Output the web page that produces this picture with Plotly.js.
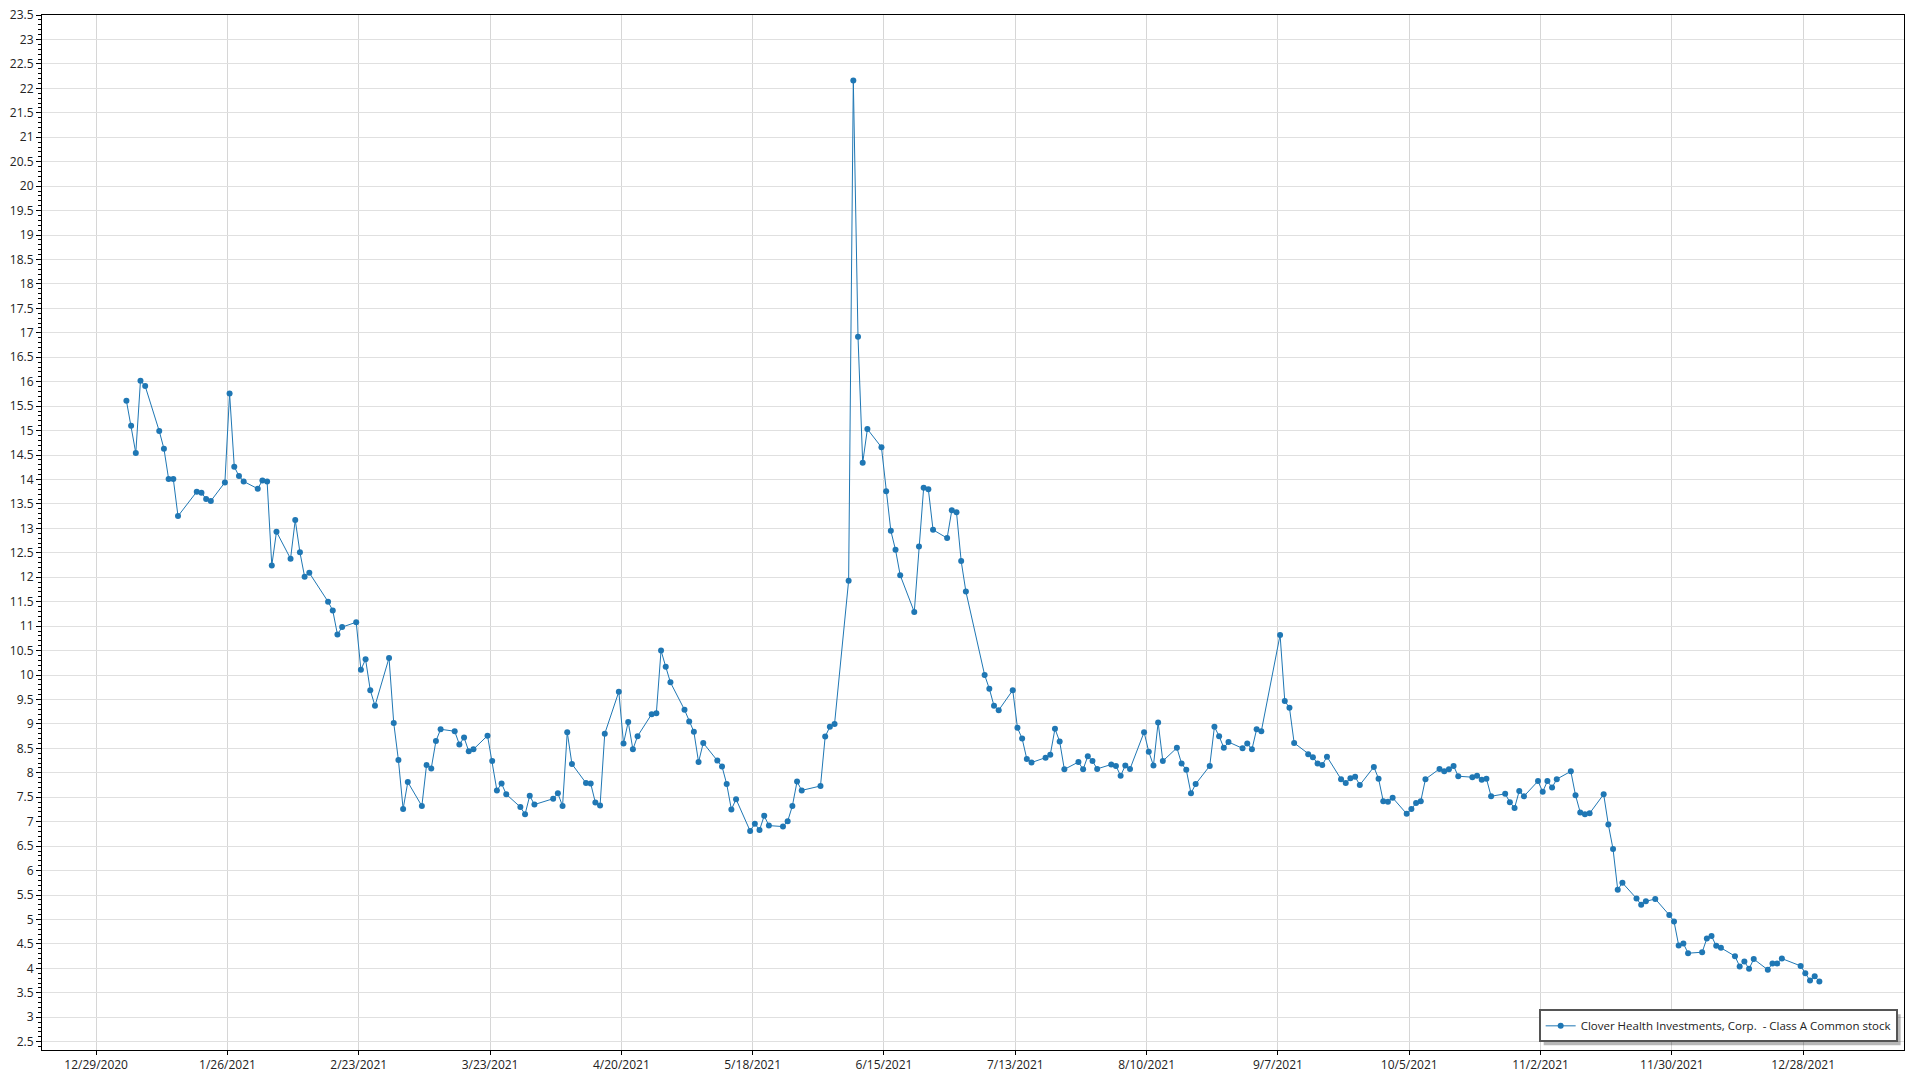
<!DOCTYPE html>
<html>
<head>
<meta charset="utf-8">
<script src="https://cdn.plot.ly/plotly-3.0.1.min.js"></script>
<style>
  html, body { margin: 0; padding: 0; background: #ffffff; }
  #chart { width: 1920px; height: 1080px; }
</style>
</head>
<body>
<div id="chart"></div>
<script>
// ---- Data (daily closing price, 2021) ----
const seriesName = "Clover Health Investments, Corp.  - Class A Common stock";

const dates = [
  "2021-01-04","2021-01-05","2021-01-06","2021-01-07","2021-01-08","2021-01-11","2021-01-12","2021-01-13","2021-01-14","2021-01-15",
  "2021-01-19","2021-01-20","2021-01-21","2021-01-22","2021-01-25","2021-01-26","2021-01-27","2021-01-28","2021-01-29",
  "2021-02-01","2021-02-02","2021-02-03","2021-02-04","2021-02-05","2021-02-08","2021-02-09","2021-02-10","2021-02-11","2021-02-12",
  "2021-02-16","2021-02-17","2021-02-18","2021-02-19","2021-02-22","2021-02-23","2021-02-24","2021-02-25","2021-02-26",
  "2021-03-01","2021-03-02","2021-03-03","2021-03-04","2021-03-05","2021-03-08","2021-03-09","2021-03-10","2021-03-11","2021-03-12",
  "2021-03-15","2021-03-16","2021-03-17","2021-03-18","2021-03-19","2021-03-22","2021-03-23","2021-03-24","2021-03-25","2021-03-26",
  "2021-03-29","2021-03-30","2021-03-31","2021-04-01",
  "2021-04-05","2021-04-06","2021-04-07","2021-04-08","2021-04-09","2021-04-12","2021-04-13","2021-04-14","2021-04-15","2021-04-16",
  "2021-04-19","2021-04-20","2021-04-21","2021-04-22","2021-04-23","2021-04-26","2021-04-27","2021-04-28","2021-04-29","2021-04-30",
  "2021-05-03","2021-05-04","2021-05-05","2021-05-06","2021-05-07","2021-05-10","2021-05-11","2021-05-12","2021-05-13","2021-05-14",
  "2021-05-17","2021-05-18","2021-05-19","2021-05-20","2021-05-21","2021-05-24","2021-05-25","2021-05-26","2021-05-27","2021-05-28",
  "2021-06-01","2021-06-02","2021-06-03","2021-06-04","2021-06-07","2021-06-08","2021-06-09","2021-06-10","2021-06-11",
  "2021-06-14","2021-06-15","2021-06-16","2021-06-17","2021-06-18","2021-06-21","2021-06-22","2021-06-23","2021-06-24","2021-06-25",
  "2021-06-28","2021-06-29","2021-06-30","2021-07-01","2021-07-02",
  "2021-07-06","2021-07-07","2021-07-08","2021-07-09","2021-07-12","2021-07-13","2021-07-14","2021-07-15","2021-07-16",
  "2021-07-19","2021-07-20","2021-07-21","2021-07-22","2021-07-23","2021-07-26","2021-07-27","2021-07-28","2021-07-29","2021-07-30",
  "2021-08-02","2021-08-03","2021-08-04","2021-08-05","2021-08-06","2021-08-09","2021-08-10","2021-08-11","2021-08-12","2021-08-13",
  "2021-08-16","2021-08-17","2021-08-18","2021-08-19","2021-08-20","2021-08-23","2021-08-24","2021-08-25","2021-08-26","2021-08-27",
  "2021-08-30","2021-08-31","2021-09-01","2021-09-02","2021-09-03",
  "2021-09-07","2021-09-08","2021-09-09","2021-09-10","2021-09-13","2021-09-14","2021-09-15","2021-09-16","2021-09-17",
  "2021-09-20","2021-09-21","2021-09-22","2021-09-23","2021-09-24","2021-09-27","2021-09-28","2021-09-29","2021-09-30","2021-10-01",
  "2021-10-04","2021-10-05","2021-10-06","2021-10-07","2021-10-08","2021-10-11","2021-10-12","2021-10-13","2021-10-14","2021-10-15",
  "2021-10-18","2021-10-19","2021-10-20","2021-10-21","2021-10-22","2021-10-25","2021-10-26","2021-10-27","2021-10-28","2021-10-29",
  "2021-11-01","2021-11-02","2021-11-03","2021-11-04","2021-11-05","2021-11-08","2021-11-09","2021-11-10","2021-11-11","2021-11-12",
  "2021-11-15","2021-11-16","2021-11-17","2021-11-18","2021-11-19","2021-11-22","2021-11-23","2021-11-24","2021-11-26",
  "2021-11-29","2021-11-30","2021-12-01","2021-12-02","2021-12-03","2021-12-06","2021-12-07","2021-12-08","2021-12-09","2021-12-10",
  "2021-12-13","2021-12-14","2021-12-15","2021-12-16","2021-12-17","2021-12-20","2021-12-21","2021-12-22","2021-12-23",
  "2021-12-27","2021-12-28","2021-12-29","2021-12-30","2021-12-31"
];

const closes = [
  15.61,15.10,14.54,16.02,15.91,14.99,14.63,14.01,14.01,13.25,
  13.75,13.73,13.60,13.56,13.94,15.76,14.26,14.07,13.96,
  13.81,13.98,13.96,12.24,12.93,12.38,13.17,12.51,12.01,12.09,
  11.50,11.32,10.83,10.98,11.08,10.11,10.32,9.69,9.37,
  10.35,9.02,8.26,7.26,7.81,7.32,8.16,8.09,8.65,8.89,
  8.85,8.58,8.72,8.44,8.48,8.76,8.24,7.64,7.78,7.56,
  7.30,7.15,7.53,7.35,
  7.47,7.58,7.32,8.83,8.18,7.79,7.78,7.39,7.33,8.80,
  9.66,8.60,9.04,8.48,8.75,9.20,9.22,10.50,10.17,9.85,
  9.29,9.05,8.84,8.22,8.61,8.25,8.13,7.77,7.25,7.46,
  6.81,6.96,6.83,7.12,6.92,6.90,7.01,7.32,7.82,7.64,
  7.73,8.74,8.94,9.00,11.93,22.16,16.92,14.34,15.03,
  14.66,13.76,12.95,12.56,12.04,11.29,12.63,13.83,13.80,12.97,
  12.80,13.37,13.33,12.33,11.71,
  10.00,9.72,9.37,9.28,9.69,8.92,8.70,8.28,8.21,
  8.31,8.37,8.90,8.64,8.07,8.22,8.07,8.34,8.24,8.08,
  8.17,8.14,7.94,8.15,8.08,8.83,8.43,8.15,9.03,8.24,
  8.51,8.19,8.06,7.58,7.77,8.14,8.94,8.75,8.51,8.63,
  8.50,8.60,8.48,8.89,8.85,
  10.82,9.47,9.33,8.61,8.38,8.32,8.19,8.16,8.33,
  7.87,7.79,7.89,7.92,7.75,8.12,7.88,7.42,7.41,7.49,
  7.16,7.26,7.38,7.42,7.87,8.08,8.03,8.07,8.14,7.93,
  7.91,7.94,7.86,7.88,7.52,7.57,7.40,7.28,7.63,7.52,
  7.83,7.61,7.83,7.70,7.87,8.03,7.54,7.19,7.15,7.17,
  7.56,6.94,6.44,5.61,5.75,5.43,5.30,5.37,5.42,
  5.09,4.96,4.47,4.51,4.31,4.33,4.61,4.66,4.46,4.42,
  4.25,4.04,4.14,3.99,4.19,3.97,4.10,4.10,4.20,
  4.05,3.90,3.75,3.84,3.73
];

// Axis settings
const xRange = ["2020-12-17 11:00", "2022-01-18 12:00"];
const yRange = [2.33, 23.5];
const xTick0 = "2020-12-29";
const xTickStepDays = 28;
const sampleTime = " 11:00"; // sample timestamp within the day

const lineColor = "#1f77b4";
const fontFamily = "'Open Sans', 'Noto Sans', 'DejaVu Sans', sans-serif";

const trace = {
  type: "scatter",
  mode: "lines+markers",
  name: seriesName,
  x: dates.map(d => d + sampleTime),
  y: closes,
  line: { color: lineColor, width: 1 },
  marker: { color: lineColor, size: 6 },
  showlegend: true
};

const layout = {
  width: 1920,
  height: 1080,
  margin: { l: 42, r: 16, t: 15, b: 30, pad: 0 },
  paper_bgcolor: "#ffffff",
  plot_bgcolor: "#ffffff",
  font: { family: fontFamily, size: 12, color: "#222222" },
  showlegend: true,
  xaxis: {
    type: "date",
    range: xRange,
    tick0: xTick0,
    dtick: xTickStepDays * 86400000,
    tickformat: "%-m/%-d/%Y",
    ticks: "outside",
    ticklen: 4,
    tickcolor: "#000000",
    showgrid: true,
    gridcolor: "#d6d6d6",
    gridwidth: 1,
    zeroline: false,
    showline: true,
    linecolor: "#000000",
    linewidth: 1,
    mirror: true,
    automargin: false,
    tickfont: { family: fontFamily, size: 12, color: "#222222" }
  },
  yaxis: {
    range: yRange,
    tick0: 0,
    dtick: 0.5,
    ticks: "outside",
    ticklen: 5,
    tickcolor: "#000000",
    minor: { dtick: 0.1, ticks: "outside", ticklen: 3, tickcolor: "#000000", showgrid: false },
    showgrid: true,
    gridcolor: "#e0e0e0",
    gridwidth: 1,
    zeroline: false,
    showline: true,
    linecolor: "#000000",
    linewidth: 1,
    mirror: true,
    automargin: false,
    tickfont: { family: fontFamily, size: 12, color: "#222222" }
  },
  legend: {
    x: 0.9966,
    y: 0.0074,
    xanchor: "right",
    yanchor: "bottom",
    bgcolor: "#ffffff",
    bordercolor: "#555555",
    borderwidth: 2,
    font: { family: fontFamily, size: 11.5, color: "#222222" },
    itemwidth: 30
  }
};

Plotly.newPlot("chart", [trace], layout, { displayModeBar: false, staticPlot: true }).then(gd => {
  // Drop shadow behind the legend box
  const bg = gd.querySelector(".legend .bg");
  if (!bg) return;
  const r = bg.getBoundingClientRect();
  const c = gd.getBoundingClientRect();
  const fl = gd._fullLayout;
  const off = 4;
  const px2x = px => (px - fl.margin.l) / fl._size.w;
  const px2y = py => 1 - (py - fl.margin.t) / fl._size.h;
  const left = r.left - c.left + off, right = r.right - c.left + off;
  const top = r.top - c.top + off, bottom = r.bottom - c.top + off;
  Plotly.relayout(gd, {
    shapes: [{
      type: "rect", xref: "paper", yref: "paper", layer: "above",
      x0: px2x(left), x1: px2x(right), y0: px2y(bottom), y1: px2y(top),
      fillcolor: "rgba(0,0,0,0.28)", line: { width: 0 }
    }]
  });
});
</script>
</body>
</html>
